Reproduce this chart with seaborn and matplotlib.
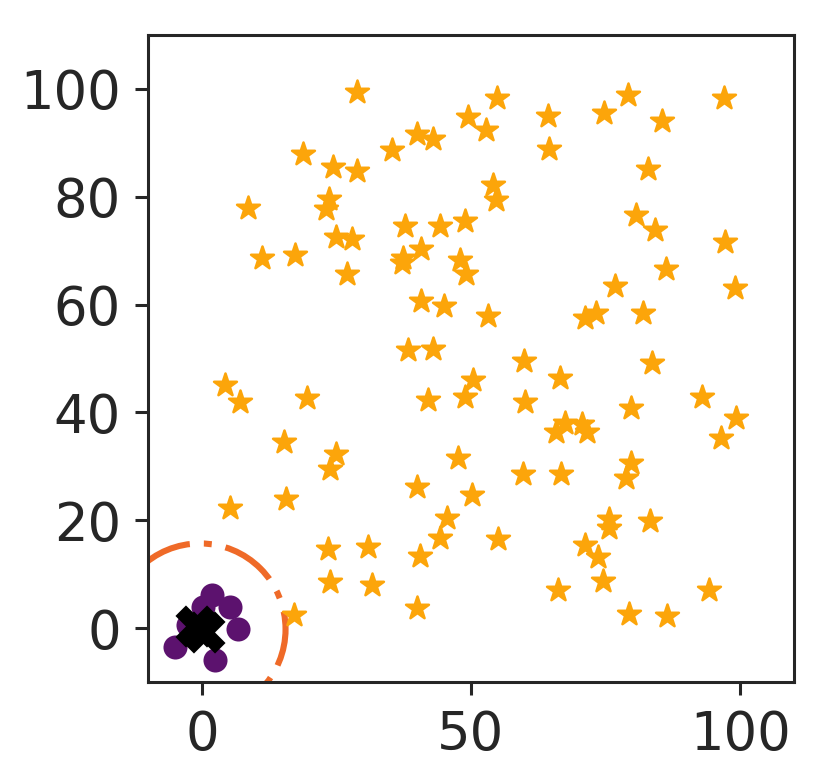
import numpy as np
import pandas as pd
import matplotlib
matplotlib.use("Agg")
import matplotlib.pyplot as plt
from matplotlib.patches import Circle
import seaborn as sns

# ---- data ----
star_x = [28.9, 49.4, 39.9, 43.0, 35.4, 18.7, 24.3, 28.8, 23.7, 23.0, 8.6, 37.8, 44.2, 48.9,
          25.0, 27.9, 40.7, 37.3, 37.2, 47.9, 49.1, 11.1, 17.3, 27.0, 40.7, 44.9, 38.3, 43.0,
          54.8, 52.7, 64.3, 64.5, 74.7, 79.2, 85.5, 97.0, 82.8, 54.1, 54.6, 80.7, 84.1, 97.1,
          86.2, 76.8, 99.1, 53.2, 71.2, 73.2, 82.0, 59.8, 83.7,
          4.3, 7.1, 19.6, 50.3, 42.0, 48.9, 15.3, 25.0, 23.8, 47.6, 40.0, 50.1, 45.6, 44.3,
          40.6, 5.2, 15.6, 23.5, 30.8, 23.8, 31.6, 39.9, 17.1,
          66.6, 60.1, 79.7, 92.9, 99.3, 96.4, 67.4, 65.7, 70.7, 71.5, 79.7, 78.8, 59.6, 66.7,
          75.7, 75.7, 83.2, 55.1, 71.2, 73.6, 74.5, 66.1, 94.3, 79.4, 86.4]
star_y = [99.4, 94.7, 91.6, 90.7, 88.7, 87.9, 85.5, 84.7, 79.5, 77.8, 77.9, 74.6, 74.6, 75.5,
          72.6, 72.2, 70.4, 68.6, 67.7, 68.2, 65.6, 68.6, 69.2, 65.6, 60.7, 59.7, 51.6, 51.8,
          98.3, 92.3, 94.9, 88.9, 95.6, 98.8, 94.1, 98.3, 85.2, 82.1, 79.4, 76.6, 73.8, 71.7,
          66.6, 63.5, 63.0, 57.9, 57.6, 58.5, 58.5, 49.6, 49.1,
          45.0, 41.9, 42.7, 46.1, 42.3, 42.8, 34.5, 32.2, 29.5, 31.6, 26.2, 24.7, 20.4, 16.8,
          13.4, 22.3, 23.9, 14.6, 15.1, 8.5, 7.9, 3.8, 2.4,
          46.3, 42.0, 40.8, 42.9, 38.9, 35.2, 38.0, 36.4, 37.8, 36.4, 30.7, 27.9, 28.6, 28.6,
          20.2, 18.5, 19.9, 16.6, 15.4, 13.1, 8.8, 7.0, 7.0, 2.7, 2.2]

cluster_x = [1.9, 5.3, 6.8, -4.9, 2.5, 0.3, -2.5]
cluster_y = [6.1, 4.0, -0.1, -3.5, -5.9, 4.0, 0.5]

center_x = [-1.1, 0.4]
center_y = [0.3, -0.7]

circle_radius = 15.9

star_color = "#fca50a"
cluster_color = "#5c126e"
circle_color = "#ef6a28"

# ---- style ----
sns.set_style("ticks")
plt.rcParams["font.family"] = ["DejaVu Sans"]

DPI = 200
fig = plt.figure(figsize=(831 / DPI, 781 / DPI), dpi=DPI)
ax = fig.add_axes([148 / 831, 1 - 682 / 781, 646 / 831, 647 / 781])

stars = pd.DataFrame({"x": star_x, "y": star_y})
cluster = pd.DataFrame({"x": cluster_x, "y": cluster_y})
centers = pd.DataFrame({"x": center_x, "y": center_y})

circ = Circle((float(np.mean(center_x)), float(np.mean(center_y))), circle_radius,
              fill=False, edgecolor=circle_color, linewidth=2.2,
              linestyle=(13.9, (9, 2.3, 1.3, 2.3)), zorder=1)
ax.add_patch(circ)

sns.scatterplot(data=stars, x="x", y="y", marker="*", s=75, color=star_color,
                edgecolor=star_color, linewidth=0.9, ax=ax, zorder=2)
sns.scatterplot(data=cluster, x="x", y="y", marker="o", s=75, color=cluster_color,
                linewidth=0, ax=ax, zorder=3)
sns.scatterplot(data=centers, x="x", y="y", marker="X", s=230, color="black",
                linewidth=0, ax=ax, zorder=4)

ax.set_xlim(-10, 110)
ax.set_ylim(-10, 110)
ax.set_xticks([0, 50, 100])
ax.set_yticks([0, 20, 40, 60, 80, 100])
ax.set_xlabel("")
ax.set_ylabel("")
for sp in ax.spines.values():
    sp.set_linewidth(1.1)
    sp.set_color("#262626")
ax.tick_params(axis="both", labelsize=19, length=4.7, width=1.1, pad=5,
               colors="#262626", labelcolor="#262626")

fig.savefig("out.png", dpi=DPI)
